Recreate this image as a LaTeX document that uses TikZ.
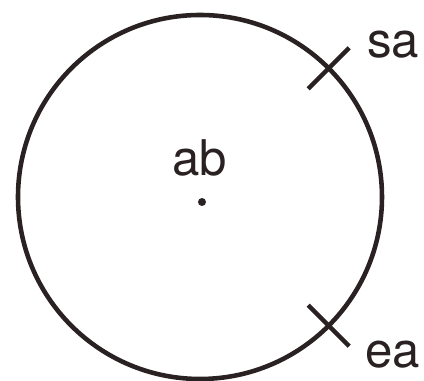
\documentclass[tikz,border=0pt]{standalone}
\usepackage{fontspec}
\setmainfont{TeX Gyre Heros}
\usepackage{tikz}
\usetikzlibrary{calc}
\definecolor{ink}{HTML}{2A2222}

\begin{document}
\begin{tikzpicture}[x=0.02cm, y=0.02cm, line width=2.6pt, ink,
    lbl/.style={font=\fontsize{28}{32}\selectfont, anchor=base, inner sep=0pt}]
  \useasboundingbox (-200,-184) rectangle (224,197);

  % the arc and its centre
  \coordinate (ctr) at (0,0);
  \draw (ctr) circle (182);
  \fill (2,-5) circle (4) coordinate (ab);
  \node[lbl] (ablbl) at (0,21) {ab};

  % start and end marks
  \draw (ctr) ++(45:153) coordinate (s1) -- ($(ctr)+(45:211)$) coordinate (s2);
  \draw (ctr) ++(-45:153) coordinate (e1) -- ($(ctr)+(-45:211)$) coordinate (e2);
  \node[lbl] (sa) at (193,139) {sa};
  \node[lbl] (ea) at (193,-171) {ea};
\end{tikzpicture}
\end{document}
